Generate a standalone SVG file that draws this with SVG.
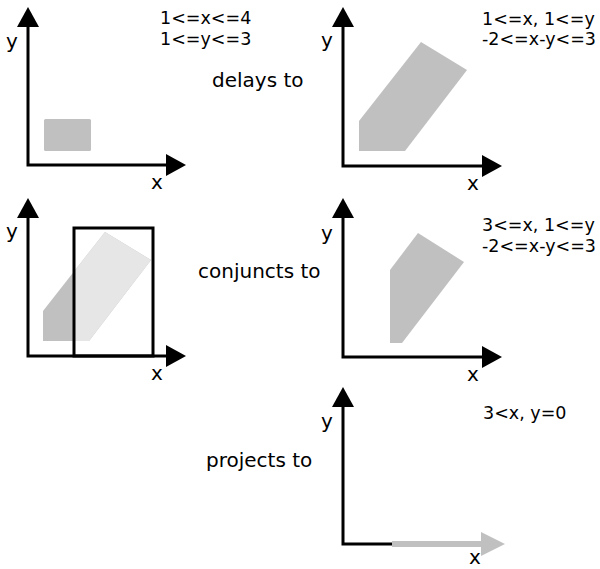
<svg xmlns="http://www.w3.org/2000/svg" width="600" height="569" viewBox="0 0 600 569">
  <style>
    text { font-family: "DejaVu Sans", "Liberation Sans", sans-serif; fill: #000; }
    .lbl { font-size: 20px; }
    .ax { font-size: 20px; }
    .eq { font-size: 17.5px; }
    .axis { fill: none; stroke: #000; stroke-width: 3; marker-start: url(#ahs); marker-end: url(#ah); }
    .region { fill: #c0c0c0; stroke: none; }
    .pale { fill: #e6e6e6; stroke: none; }
    .box { fill: none; stroke: #000; stroke-width: 3; }
  </style>
  <defs>
    <marker id="ah" viewBox="0 0 20 22" refX="0" refY="11" markerWidth="20" markerHeight="22" markerUnits="userSpaceOnUse" orient="auto">
      <path d="M0,0 L20,11 L0,22 z" fill="#000"/>
    </marker>
    <marker id="ahs" viewBox="0 0 20 22" refX="0" refY="11" markerWidth="20" markerHeight="22" markerUnits="userSpaceOnUse" orient="auto-start-reverse">
      <path d="M0,0 L20,11 L0,22 z" fill="#000"/>
    </marker>
    <clipPath id="insideBox">
      <rect x="74" y="228" width="79" height="128"/>
    </clipPath>
  </defs>

  <rect width="600" height="569" fill="#fff"/>

  <!-- operation labels -->
  <text class="lbl" x="212" y="87">delays to</text>
  <text class="lbl" x="198" y="278">conjuncts to</text>
  <text class="lbl" x="206" y="467">projects to</text>

  <!-- panel 1: the box region -->
  <g id="box-region">
    <rect class="region" x="44" y="119" width="47" height="32" rx="1.5"/>
    <text class="ax" x="6" y="48">y</text>
    <text class="ax" x="151" y="189">x</text>
    <text class="eq" x="160" y="24">1&lt;=x&lt;=4</text>
    <text class="eq" x="160" y="45">1&lt;=y&lt;=3</text>
  </g>

  <!-- panel 2: delayed region -->
  <g id="delayed-region">
    <polygon class="region" points="359,121 421,42 467,70 405,151 359,151"/>
    <text class="ax" x="321" y="47">y</text>
    <text class="ax" x="467" y="190">x</text>
    <text class="eq" x="482" y="25">1&lt;=x, 1&lt;=y</text>
    <text class="eq" x="482" y="45">-2&lt;=x-y&lt;=3</text>
  </g>

  <!-- panel 3: delayed region intersected with x >= 3 -->
  <g id="conjunction">
    <polygon class="region" points="43,311 105,232 151,260 89,341 43,341"/>
    <polygon class="pale" clip-path="url(#insideBox)" points="43,311 105,232 151,260 89,341 43,341"/>
    <rect class="box" x="74" y="228" width="79" height="128"/>
    <text class="ax" x="6" y="238">y</text>
    <text class="ax" x="151" y="380">x</text>
  </g>

  <!-- panel 4: conjunction result -->
  <g id="conjunct-region">
    <polygon class="region" points="390,270 418,233 464,262 402,343 390,343"/>
    <text class="ax" x="321" y="240">y</text>
    <text class="ax" x="467" y="381">x</text>
    <text class="eq" x="482" y="231">3&lt;=x, 1&lt;=y</text>
    <text class="eq" x="482" y="252">-2&lt;=x-y&lt;=3</text>
  </g>

  <!-- panel 5: projection onto the x axis -->
  <g id="projection">
    <line x1="392" y1="544" x2="482" y2="544" stroke="#c0c0c0" stroke-width="6"/>
    <path d="M481,532 L505,544 L481,556 z" fill="#c0c0c0"/>
    <text class="ax" x="321" y="428">y</text>
    <text class="ax" x="469" y="564">x</text>
    <text class="eq" x="483" y="419">3&lt;x, y=0</text>
  </g>

  <!-- coordinate axes -->
  <g id="axes">
    <path class="axis" d="M28,27 L28,165 L166,165"/>
    <path class="axis" d="M343,27 L343,166 L482,166"/>
    <path class="axis" d="M28,218 L28,356 L166,356"/>
    <path class="axis" d="M343,218 L343,357 L482,357"/>
    <path d="M343,407 L343,544 L392,544" fill="none" stroke="#000" stroke-width="3" marker-start="url(#ahs)"/>
  </g>
</svg>
